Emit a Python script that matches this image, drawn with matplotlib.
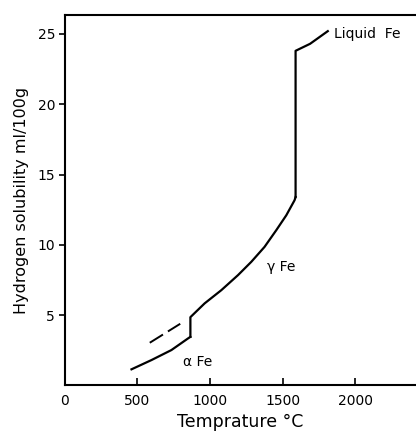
import matplotlib.pyplot as plt

# alpha iron branch
alpha_t = [459, 597, 734, 849, 865]
alpha_h = [1.14, 1.8, 2.51, 3.34, 3.45]

# gamma iron branch (starts after the step at ~865 C)
gamma_t = [865, 865, 963, 1078, 1193, 1285, 1376, 1457, 1526, 1583, 1590]
gamma_h = [3.45, 4.85, 5.83, 6.77, 7.84, 8.79, 9.85, 11.04, 12.1, 13.17, 13.4]

# melting jump and liquid iron
liquid_t = [1590, 1590, 1690, 1812]
liquid_h = [13.4, 23.8, 24.3, 25.2]

# dashed extrapolation
dash_t = [585, 795]
dash_h = [3.03, 4.38]

xticks = [0, 500, 1000, 1500, 2000]
yticks = [5, 10, 15, 20, 25]

fig = plt.figure(figsize=(4.16, 4.32), dpi=100)
ax = fig.add_axes([0.156, 0.108, 0.844, 0.857])

ax.plot(alpha_t, alpha_h, color="black", lw=1.6)
ax.plot(gamma_t, gamma_h, color="black", lw=1.6)
ax.plot(liquid_t, liquid_h, color="black", lw=1.6)
ax.plot(dash_t, dash_h, color="black", lw=1.4, dashes=(8, 3))

ax.text(1855, 25.0, "Liquid  Fe", fontsize=10, va="center", ha="left")
ax.text(1395, 8.4, "γ Fe", fontsize=10, va="center", ha="left")
ax.text(815, 1.65, "α Fe", fontsize=10, va="center", ha="left")

ax.set_xlim(0, 2420)
ax.set_ylim(0, 26.34)
ax.set_xticks(xticks)
ax.set_yticks(yticks)
ax.tick_params(axis="x", direction="in", length=5, width=1.2, pad=6, labelsize=10)
ax.tick_params(axis="y", direction="out", length=4, width=1.2, pad=3, labelsize=10)
for s in ["left", "bottom", "top"]:
    ax.spines[s].set_linewidth(1.5)
ax.spines["right"].set_visible(False)

ax.set_xlabel("Temprature °C", fontsize=12.5, labelpad=4)
ax.set_ylabel("Hydrogen solubility ml/100g", fontsize=11.5, labelpad=6)

fig.savefig("out.png", dpi=100)
